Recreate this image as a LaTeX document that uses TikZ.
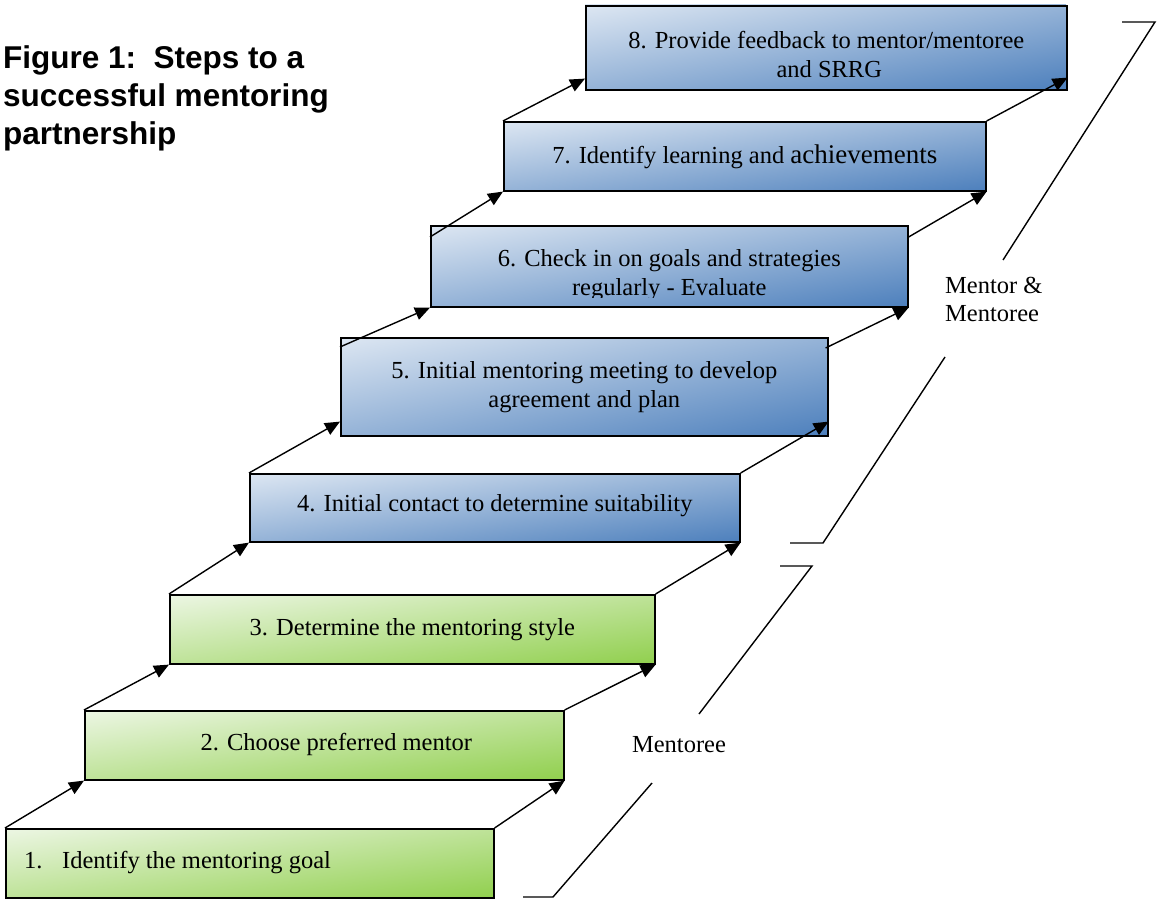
\documentclass[tikz,border=0pt]{standalone}
\usepackage{fontspec}
\setmainfont{Liberation Serif}
\newfontfamily\titlefont{Liberation Sans}
\usetikzlibrary{arrows.meta,calc}

\definecolor{blueLight}{RGB}{220,230,242}
\definecolor{blueDark}{RGB}{79,129,189}
\definecolor{greenLight}{RGB}{236,246,227}
\definecolor{greenDark}{RGB}{146,208,80}

% corner-to-corner linear gradients for the step boxes
\pgfdeclareverticalshading{bluediag}{100bp}{color(0bp)=(blueDark); color(15bp)=(blueDark);
  color(85bp)=(blueLight); color(100bp)=(blueLight)}
\pgfdeclareverticalshading{greendiag}{100bp}{color(0bp)=(greenDark); color(15bp)=(greenDark);
  color(85bp)=(greenLight); color(100bp)=(greenLight)}

% diagonal gradient fill of a box: left, top, width, height, shading
% (a square is shaded at 45 degrees and stretched onto the box)
\newcommand\stepshade[5]{%
  \begin{scope}[transform canvas={shift={(#1+#3/2,#2+#4/2)}, xscale=#3/100, yscale=#4/100}]
    \shade[shading=#5, shading angle=45] (-50pt,-50pt) rectangle (50pt,50pt);
  \end{scope}}

\begin{document}
\begin{tikzpicture}[x=1pt,y=-1pt,
  stepbox/.style={draw=black, line width=1.6pt, rectangle, anchor=north west,
    inner sep=0pt},
  steptext/.style={font=\fontsize{24.5}{29}\selectfont, align=center, inner sep=0pt},
  climb/.style={line width=1.4pt, -{Triangle[length=15pt,width=13pt]}},
  bracket/.style={line width=1.4pt},
  sidetext/.style={font=\fontsize{24.5}{28}\selectfont, inner sep=0pt}
]
\useasboundingbox (0,0) rectangle (1157,899);

% title
\node[font=\titlefont\bfseries\fontsize{31.5}{38}\selectfont, align=left,
  anchor=north west, inner sep=0pt] (title) at (3,45)
  {Figure 1:\ \ Steps to a\\successful mentoring\\partnership};

% gradient fills of the eight steps
\stepshade{5}{828}{488}{69}{greendiag}
\stepshade{84}{710}{479}{69}{greendiag}
\stepshade{169}{594}{485}{69}{greendiag}
\stepshade{249}{473}{490}{68}{bluediag}
\stepshade{340}{337}{487}{98}{bluediag}
\stepshade{430}{225}{477}{81}{bluediag}
\stepshade{503}{121}{482}{69}{bluediag}
\stepshade{585}{5}{481}{84}{bluediag}

% the eight steps
\node[stepbox, minimum width=488pt, minimum height=69pt] (b1) at (5,828) {};
\node[stepbox, minimum width=479pt, minimum height=69pt] (b2) at (84,710) {};
\node[stepbox, minimum width=485pt, minimum height=69pt] (b3) at (169,594) {};
\node[stepbox, minimum width=490pt, minimum height=68pt] (b4) at (249,473) {};
\node[stepbox, minimum width=487pt, minimum height=98pt] (b5) at (340,337) {};
\node[stepbox, minimum width=477pt, minimum height=81pt] (b6) at (430,225) {};
\node[stepbox, minimum width=482pt, minimum height=69pt] (b7) at (503,121) {};
\node[stepbox, minimum width=481pt, minimum height=84pt] (b8) at (585,5) {};

% step labels
\node[steptext, anchor=west] (t1) at ([xshift=19pt,yshift=1pt]b1.west)
  {\makebox[38pt][l]{1.}Identify the mentoring goal};
\node[steptext] (t2) at ([xshift=12pt,yshift=1pt]b2.center) {2. Choose preferred mentor};
\node[steptext] (t3) at (b3.center) {3. Determine the mentoring style};
\node[steptext] (t4) at ([yshift=2pt]b4.center) {4. Initial contact to determine suitability};
\node[steptext] (t5) at (b5.center) {5. Initial mentoring meeting to develop\\agreement and plan};
\begin{scope}
  \clip (b6.north west) rectangle ([yshift=10pt]b6.south east);
  \node[steptext] (t6) at ([yshift=-9pt]b6.center)
    {6. Check in on goals and strategies\\regularly - Evaluate};
\end{scope}
\node[steptext] (t7) at (b7.center)
  {7. Identify learning and {\fontsize{27}{29}\selectfont achievements}};
\node[steptext] (t8) at ([yshift=-7pt]b8.center)
  {8. Provide feedback to mentor/mentoree\\\hspace*{6pt}and SRRG};

% connectors between the steps
\draw[climb] (b1.north west) -- (b2.south west);
\draw[climb] (b1.north east) -- (b2.south east);
\draw[climb] (b2.north west) -- (b3.south west);
\draw[climb] (b2.north east) -- (b3.south east);
\draw[climb] (b3.north west) -- (b4.south west);
\draw[climb] (b3.north east) -- (b4.south east);
\draw[climb] (b4.north west) -- ([yshift=15pt]b5.south west);
\draw[climb] (b4.north east) -- ([yshift=15pt]b5.south east);
\draw[climb] ([yshift=-10pt]b5.north west) -- (b6.south west);
\draw[climb] ([xshift=-3pt,yshift=-11pt]b5.north east) -- (b6.south east);
\draw[climb] ([yshift=-12pt]b6.north west) -- (b7.south west);
\draw[climb] ([yshift=-12pt]b6.north east) -- (b7.south east);
\draw[climb] (b7.north west) -- ([yshift=12pt]b8.south west);
\draw[climb] (b7.north east) -- ([yshift=13pt]b8.south east);

% bracket: mentor and mentoree
\coordinate (ua) at (1122,22);
\coordinate (ub) at (1155,22);
\coordinate (uc) at (1003,260);
\coordinate (ud) at (945,357);
\coordinate (ue) at (823,543);
\coordinate (uf) at (790,543);
\draw[bracket] (ua) -- (ub) -- (uc);
\draw[bracket] (ud) -- (ue) -- (uf);
\node[sidetext, anchor=west, align=left] (mm) at (945,299) {Mentor \&\\Mentoree};

% bracket: mentoree
\coordinate (la) at (780,566);
\coordinate (lb) at (812,566);
\coordinate (lc) at (699,714);
\coordinate (ld) at (652,783);
\coordinate (le) at (553,897);
\coordinate (lf) at (523,897);
\draw[bracket] (la) -- (lb) -- (lc);
\draw[bracket] (ld) -- (le) -- (lf);
\node[sidetext] (me) at (679,745) {Mentoree};
\end{tikzpicture}
\end{document}
